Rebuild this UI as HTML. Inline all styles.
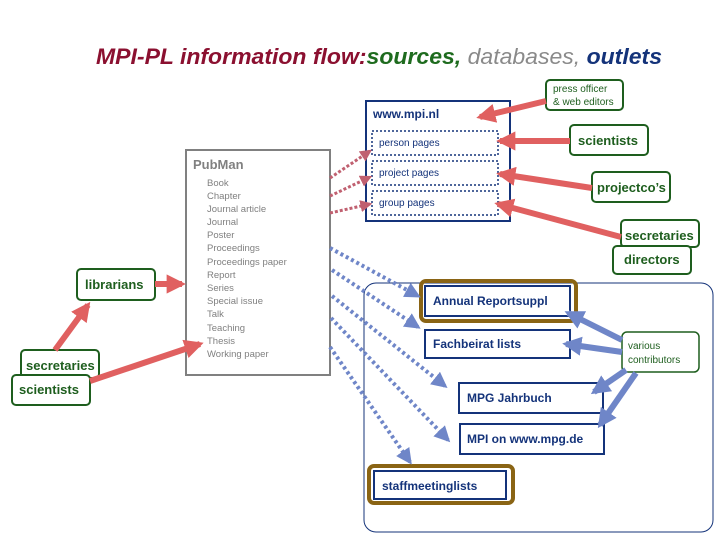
<!DOCTYPE html>
<html><head><meta charset="utf-8"><style>
html,body{margin:0;padding:0;background:#fff}
svg{display:block}
text{font-family:"Liberation Sans",sans-serif}
</style></head><body>
<svg width="720" height="540" viewBox="0 0 720 540" xmlns="http://www.w3.org/2000/svg">
<defs>
<marker id="ra" viewBox="0 0 10 10" refX="8" refY="5" markerWidth="3.2" markerHeight="3.2" orient="auto"><path d="M0,0 L10,5 L0,10 z" fill="#e06060"/></marker>
<marker id="ba" viewBox="0 0 10 10" refX="8" refY="5" markerWidth="3.2" markerHeight="3.2" orient="auto"><path d="M0,0 L10,5 L0,10 z" fill="#6f86c8"/></marker>
<marker id="rd" viewBox="0 0 10 10" refX="8" refY="5" markerWidth="4" markerHeight="4" orient="auto"><path d="M0,0 L10,5 L0,10 z" fill="#c06070"/></marker>
<marker id="bd" viewBox="0 0 10 10" refX="8" refY="5" markerWidth="4" markerHeight="4" orient="auto"><path d="M0,0 L10,5 L0,10 z" fill="#6f86c8"/></marker>
</defs>
<text x="96" y="64" font-size="22" font-style="italic" font-weight="bold" textLength="566" lengthAdjust="spacingAndGlyphs"><tspan fill="#8b1030">MPI-PL information flow:</tspan><tspan fill="#1e6b1e">sources,</tspan><tspan fill="#8a8a8a" font-weight="normal"> databases,</tspan><tspan fill="#14337a"> outlets</tspan></text>

<rect x="364" y="283" width="349" height="249" rx="12" fill="none" stroke="#14337a" stroke-width="1"/>

<rect x="366" y="101" width="144" height="120" fill="#fff" stroke="#14337a" stroke-width="2"/>
<text x="373" y="118" font-size="12" font-weight="bold" fill="#14337a">www.mpi.nl</text>
<rect x="372" y="131" width="126" height="24" fill="none" stroke="#14337a" stroke-width="1.5" stroke-dasharray="2,2"/>
<rect x="372" y="161" width="126" height="24" fill="none" stroke="#14337a" stroke-width="1.5" stroke-dasharray="2,2"/>
<rect x="372" y="191" width="126" height="24" fill="none" stroke="#14337a" stroke-width="1.5" stroke-dasharray="2,2"/>
<text x="379" y="146" font-size="10" fill="#14337a">person pages</text>
<text x="379" y="176" font-size="10" fill="#14337a">project pages</text>
<text x="379" y="206" font-size="10" fill="#14337a">group pages</text>

<rect x="186" y="150" width="144" height="225" fill="#fff" stroke="#808080" stroke-width="2"/>
<text x="193" y="169" font-size="13" font-weight="bold" fill="#808080">PubMan</text>
<g font-size="9.5" fill="#808080">
<text x="207" y="186">Book</text><text x="207" y="199">Chapter</text><text x="207" y="212">Journal article</text><text x="207" y="225">Journal</text><text x="207" y="238">Poster</text><text x="207" y="251">Proceedings</text><text x="207" y="265">Proceedings paper</text><text x="207" y="278">Report</text><text x="207" y="291">Series</text><text x="207" y="304">Special issue</text><text x="207" y="317">Talk</text><text x="207" y="331">Teaching</text><text x="207" y="344">Thesis</text><text x="207" y="357">Working paper</text>
</g>

<g fill="#fff" stroke="#1e5e1e" stroke-width="2">
<rect x="546" y="80" width="77" height="30" rx="4"/>
<rect x="570" y="125" width="78" height="30" rx="4"/>
<rect x="592" y="172" width="78" height="30" rx="4"/>
<rect x="621" y="220" width="78" height="27" rx="4"/>
<rect x="613" y="246" width="78" height="28" rx="4"/>
<rect x="77" y="269" width="78" height="31" rx="4"/>
<rect x="21" y="350" width="78" height="28" rx="4"/>
<rect x="12" y="375" width="78" height="30" rx="4"/>
<rect x="622" y="332" width="77" height="40" rx="5" stroke-width="1.5"/>
</g>
<g fill="#1e5e1e" font-weight="bold" font-size="13">
<text x="578" y="145">scientists</text>
<text x="597" y="192">projectco’s</text>
<text x="625" y="240">secretaries</text>
<text x="624" y="264">directors</text>
<text x="85" y="289">librarians</text>
<text x="26" y="370">secretaries</text>
<text x="19" y="394">scientists</text>
</g>
<text x="553" y="92" font-size="10" fill="#1e5e1e">press officer</text>
<text x="553" y="105" font-size="10" fill="#1e5e1e">&amp; web editors</text>
<text x="628" y="349" font-size="10" fill="#1e5e1e">various</text>
<text x="628" y="363" font-size="10" fill="#1e5e1e">contributors</text>

<rect x="421" y="281" width="155" height="40" rx="5" fill="none" stroke="#8a6414" stroke-width="4"/>
<rect x="425" y="286" width="145" height="30" fill="#fff" stroke="#14337a" stroke-width="2"/>
<rect x="425" y="330" width="145" height="28" fill="#fff" stroke="#14337a" stroke-width="2"/>
<rect x="459" y="383" width="144" height="30" fill="#fff" stroke="#14337a" stroke-width="2"/>
<rect x="460" y="424" width="144" height="30" fill="#fff" stroke="#14337a" stroke-width="2"/>
<rect x="369" y="466" width="144" height="37" rx="5" fill="none" stroke="#8a6414" stroke-width="4"/>
<rect x="374" y="471" width="132" height="28" fill="#fff" stroke="#14337a" stroke-width="2"/>
<g fill="#14337a" font-weight="bold" font-size="12">
<text x="433" y="305">Annual Reportsuppl</text>
<text x="433" y="348">Fachbeirat lists</text>
<text x="467" y="402">MPG Jahrbuch</text>
<text x="467" y="443">MPI on www.mpg.de</text>
<text x="382" y="490">staffmeetinglists</text>
</g>

<g stroke="#e06060" stroke-width="6" fill="none" marker-end="url(#ra)">
<line x1="546" y1="101" x2="480" y2="117"/>
<line x1="570" y1="141" x2="500" y2="141"/>
<line x1="592" y1="188" x2="500" y2="174"/>
<line x1="621" y1="237" x2="498" y2="204"/>
<line x1="155" y1="284" x2="182" y2="284"/>
<line x1="55" y1="350" x2="88" y2="305"/>
<line x1="90" y1="381" x2="200" y2="344"/>
</g>
<g stroke="#c06070" stroke-width="3" stroke-dasharray="3,2" fill="none" marker-end="url(#rd)">
<line x1="330" y1="178" x2="370" y2="151"/>
<line x1="330" y1="196" x2="370" y2="177"/>
<line x1="330" y1="213" x2="370" y2="204"/>
</g>
<g stroke="#6f86c8" stroke-width="4" stroke-dasharray="3,3" fill="none" marker-end="url(#bd)">
<line x1="330" y1="248" x2="418" y2="296"/>
<line x1="332" y1="270" x2="418" y2="327"/>
<line x1="332" y1="296" x2="445" y2="386"/>
<line x1="331" y1="318" x2="448" y2="440"/>
<line x1="330" y1="347" x2="410" y2="462"/>
</g>
<g stroke="#6f86c8" stroke-width="6" fill="none" marker-end="url(#ba)">
<line x1="622" y1="340" x2="568" y2="313"/>
<line x1="622" y1="352" x2="566" y2="344"/>
<line x1="626" y1="370" x2="594" y2="392"/>
<line x1="636" y1="373" x2="600" y2="425"/>
</g>
</svg>
</body></html>
